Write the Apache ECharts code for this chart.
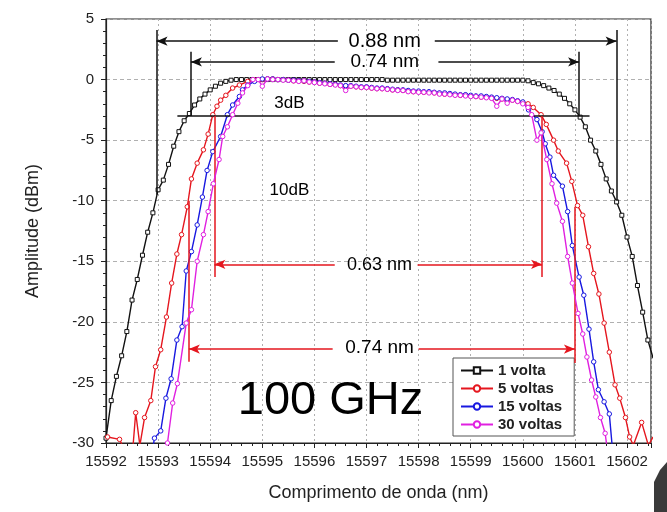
<!DOCTYPE html>
<html><head><meta charset="utf-8">
<script src="https://cdn.jsdelivr.net/npm/echarts@6/dist/echarts.min.js"></script>
<style>html,body{margin:0;padding:0;background:#fff}#c{width:667px;height:512px}</style>
</head><body><div id="c"></div>
<script>
// ---------------- data ----------------
const seriesNames = ['1 volta', '5 voltas', '15 voltas', '30 voltas'];
const xTickLabels = [15592, 15593, 15594, 15595, 15596, 15597, 15598, 15599, 15600, 15601, 15602];
const yTickLabels = [5, 0, -5, -10, -15, -20, -25, -30];

// 1 volta
const volta1Left = [[15592.0,-29.6],[15592.1,-26.5],[15592.2,-24.5],[15592.3,-22.8],[15592.4,-20.8],[15592.5,-18.2],[15592.6,-16.5],[15592.7,-14.5],[15592.8,-12.6],[15592.9,-11.0],[15593.0,-9.1],[15593.1,-8.3],[15593.2,-7.0],[15593.3,-5.5],[15593.4,-4.3],[15593.5,-3.4],[15593.6,-2.8],[15593.7,-2.1],[15593.8,-1.6],[15593.9,-1.2],[15594.0,-0.85],[15594.1,-0.55],[15594.2,-0.3],[15594.3,-0.15],[15594.4,-0.05]];
const topX1 = [15594.5,15594.6,15594.7,15594.8,15594.9,15595.0,15595.1,15595.2,15595.3,15595.4,15595.5,15595.6,15595.7,15595.8,15595.9,15596.0,15596.1,15596.2,15596.3,15596.4,15596.5,15596.6,15596.7,15596.8,15596.9,15597.0,15597.1,15597.2,15597.3,15597.4,15597.5,15597.6,15597.7,15597.8,15597.9,15598.0,15598.1,15598.2,15598.3,15598.4,15598.5,15598.6,15598.7,15598.8,15598.9,15599.0,15599.1,15599.2,15599.3,15599.4,15599.5,15599.6,15599.7,15599.8,15599.9,15600.0];
const volta1Top = [0,0,0,0,0,0,0,0,0,0,0,0,0,0,0,0,0,0,0,0,0,0,0,0,0,0,0,0,0,-0.05,-0.05,-0.05,-0.05,-0.05,-0.05,-0.05,-0.05,-0.05,-0.05,-0.05,-0.05,-0.05,-0.05,-0.05,-0.05,-0.05,-0.05,-0.05,-0.05,-0.05,-0.05,-0.05,-0.05,-0.05,-0.05,-0.05];
const volta1Right = [[15600.1,-0.1],[15600.2,-0.25],[15600.3,-0.35],[15600.4,-0.5],[15600.5,-0.7],[15600.6,-0.9],[15600.7,-1.2],[15600.8,-1.55],[15600.9,-2.0],[15601.0,-2.5],[15601.1,-3.1],[15601.2,-3.9],[15601.3,-5.0],[15601.4,-5.9],[15601.5,-7.0],[15601.6,-8.2],[15601.7,-9.2],[15601.8,-10.1],[15601.9,-11.2],[15602.0,-13.0],[15602.1,-14.6],[15602.2,-17.0],[15602.3,-19.2],[15602.4,-21.5],[15602.5,-23.0]];

// plateau grid for 5/15/30 voltas
const topX2 = [15595.0,15595.1,15595.2,15595.3,15595.4,15595.5,15595.6,15595.7,15595.8,15595.9,15596.0,15596.1,15596.2,15596.3,15596.4,15596.5,15596.6,15596.7,15596.8,15596.9,15597.0,15597.1,15597.2,15597.3,15597.4,15597.5,15597.6,15597.7,15597.8,15597.9,15598.0,15598.1,15598.2,15598.3,15598.4,15598.5,15598.6,15598.7,15598.8,15598.9,15599.0,15599.1,15599.2,15599.3,15599.4,15599.5,15599.6,15599.7,15599.8,15599.9,15600.0];

// 5 voltas
const volta5Left = [[15592.03,-29.5],[15592.26,-29.7],[15592.4,-31],[15592.52,-30.2],[15592.57,-27.5],[15592.65,-30.2],[15592.74,-27.9],[15592.86,-26.5],[15592.95,-23.7],[15593.05,-22.3],[15593.16,-19.6],[15593.26,-16.8],[15593.36,-14.4],[15593.45,-12.8],[15593.56,-10.5],[15593.64,-8.2],[15593.75,-6.9],[15593.87,-5.8],[15593.96,-4.5],[15594.05,-2.9],[15594.13,-2.2],[15594.2,-1.7],[15594.3,-1.3],[15594.43,-0.7],[15594.56,-0.45],[15594.72,-0.15],[15594.85,-0.05]];
const volta5Top = [0.0,0.05,0.05,0.0,0.0,-0.05,-0.1,-0.1,-0.15,-0.2,-0.2,-0.3,-0.3,-0.4,-0.4,-0.5,-0.55,-0.55,-0.6,-0.65,-0.65,-0.7,-0.75,-0.75,-0.8,-0.85,-0.85,-0.9,-0.95,-1.0,-1.0,-1.05,-1.05,-1.1,-1.15,-1.2,-1.2,-1.25,-1.3,-1.3,-1.35,-1.4,-1.45,-1.45,-1.5,-1.55,-1.6,-1.65,-1.7,-1.8,-1.9];
const volta5Right = [[15600.1,-2.0],[15600.2,-2.3],[15600.35,-2.9],[15600.45,-3.7],[15600.59,-5.0],[15600.68,-5.9],[15600.84,-6.9],[15600.94,-8.4],[15601.05,-10.4],[15601.15,-11.2],[15601.26,-13.8],[15601.36,-16.0],[15601.46,-17.7],[15601.56,-20.1],[15601.66,-22.5],[15601.77,-25.2],[15601.86,-26.3],[15601.97,-27.9],[15602.05,-29.5],[15602.12,-30.2],[15602.28,-28.3],[15602.41,-30.2],[15602.5,-29.5]];

// 15 voltas
const volta15Left = [[15592.88,-31],[15592.93,-29.6],[15593.05,-29.0],[15593.15,-26.3],[15593.25,-24.7],[15593.36,-21.5],[15593.46,-20.4],[15593.54,-15.8],[15593.64,-14.2],[15593.75,-12.0],[15593.85,-9.7],[15593.94,-7.5],[15594.05,-5.95],[15594.2,-4.7],[15594.33,-2.9],[15594.43,-2.1],[15594.56,-1.4],[15594.62,-0.85],[15594.72,-0.45],[15594.85,-0.15]];
const volta15Top = [0.05,0.05,0.05,0.0,0.0,-0.05,-0.05,-0.1,-0.1,-0.15,-0.2,-0.25,-0.3,-0.35,-0.4,-0.45,-0.5,-0.5,-0.55,-0.6,-0.6,-0.65,-0.7,-0.7,-0.75,-0.8,-0.85,-0.85,-0.9,-0.95,-0.95,-1.0,-1.0,-1.05,-1.1,-1.1,-1.15,-1.2,-1.25,-1.25,-1.3,-1.35,-1.35,-1.4,-1.45,-1.5,-1.55,-1.6,-1.65,-1.75,-1.85];
const volta15Right = [[15600.11,-2.5],[15600.27,-3.3],[15600.37,-4.3],[15600.43,-5.3],[15600.52,-6.4],[15600.59,-7.9],[15600.76,-8.8],[15600.86,-10.9],[15600.95,-13.7],[15601.08,-16.3],[15601.17,-17.8],[15601.27,-20.6],[15601.36,-23.3],[15601.45,-25.6],[15601.56,-26.6],[15601.66,-27.6],[15601.72,-30.5]];

// 30 voltas
const volta30Left = [[15593.15,-31],[15593.18,-30.0],[15593.28,-26.7],[15593.37,-25.1],[15593.54,-20.1],[15593.64,-19.0],[15593.75,-15.0],[15593.87,-12.8],[15593.96,-10.9],[15594.06,-8.6],[15594.17,-6.6],[15594.24,-4.7],[15594.33,-3.9],[15594.43,-2.9],[15594.53,-1.95],[15594.62,-1.1],[15594.72,-0.5],[15594.82,0.0],[15594.92,0.0]];
const volta30Top = [-0.55,0.05,0.0,0.0,-0.05,-0.05,-0.1,-0.15,-0.1,-0.2,-0.25,-0.3,-0.35,-0.4,-0.45,-0.5,-0.9,-0.55,-0.6,-0.65,-0.65,-0.7,-0.75,-0.75,-0.8,-0.85,-0.9,-0.9,-1.0,-1.0,-1.05,-1.05,-1.1,-1.1,-1.2,-1.2,-1.25,-1.3,-1.3,-1.35,-1.4,-1.4,-1.45,-1.5,-1.55,-2.2,-1.6,-1.95,-1.7,-1.8,-2.0];
const volta30Right = [[15600.1,-2.3],[15600.17,-2.9],[15600.27,-5.0],[15600.35,-4.4],[15600.46,-6.6],[15600.56,-8.6],[15600.65,-10.2],[15600.76,-11.7],[15600.86,-14.6],[15600.95,-16.8],[15601.06,-19.3],[15601.15,-21.0],[15601.23,-22.9],[15601.32,-24.8],[15601.4,-26.2],[15601.49,-27.9],[15601.58,-29.2],[15601.62,-30.5]];

// annotations (data units): vertical [x, yTop, yBottom]; arrows [fromX, toX, y]; hline [x1, x2, y]
const blackVLines = [[15592.97, 4.1, -9.5], [15601.8, 4.1, -10.0], [15593.63, 2.3, -3.0], [15601.08, 2.3, -3.0]];
const blackHLines = [[15593.37, 15601.28, -3.0]];
const blackArrows = [[15596.45, 15592.97, 3.17], [15598.31, 15601.8, 3.17], [15596.39, 15593.63, 1.46], [15598.38, 15601.08, 1.46]];
const redVLines = [[15594.08, -3.0, -16.3], [15600.37, -3.0, -16.3], [15593.59, -10.0, -23.3], [15601.0, -10.5, -23.4]];
const redArrows = [[15596.39, 15594.08, -15.25], [15597.98, 15600.37, -15.25], [15596.35, 15593.59, -22.25], [15598.0, 15601.0, -22.25]];
const notes = [['0.88 nm', 15597.35, 3.12], ['0.74 nm', 15597.35, 1.46], ['3dB', 15595.52, -1.93], ['10dB', 15595.52, -9.13], ['0.63 nm', 15597.25, -15.35], ['0.74 nm', 15597.25, -22.1], ['100 GHz', 15596.31, -26.5]];

// ---------------- chart ----------------
const FONT = '"Liberation Sans", Arial, sans-serif';
const colors = ['#111111', '#e5161e', '#1818e0', '#e020e0'];
const zip = (xs, ys) => xs.map((x, i) => [x, ys[i]]);
const allData = [
  volta1Left.concat(zip(topX1, volta1Top), volta1Right),
  volta5Left.concat(zip(topX2, volta5Top), volta5Right),
  volta15Left.concat(zip(topX2, volta15Top), volta15Right),
  volta30Left.concat(zip(topX2, volta30Top), volta30Right)
];
const symbols = ['rect', 'circle', 'circle', 'circle'];

const curveSeries = seriesNames.map((name, i) => ({
  name, type: 'line', data: allData[i], symbol: symbols[i], symbolSize: i === 0 ? 4 : 4.5,
  showSymbol: true, showAllSymbol: true, clip: true,
  lineStyle: { color: colors[i], width: 1.4 },
  itemStyle: { color: '#fff', borderColor: colors[i], borderWidth: 1 },
  emphasis: { disabled: true }, z: 2 + i
}));

function ls(color) { return { color, width: 1.5, type: 'solid' }; }
function vline(v, color) { return [{ coord: [v[0], v[1]], lineStyle: ls(color) }, { coord: [v[0], v[2]] }]; }
function hline(h, color) { return [{ coord: [h[0], h[2]], lineStyle: ls(color) }, { coord: [h[1], h[2]] }]; }
function arrow(a, color) { return [{ coord: [a[0], a[2]], symbol: 'none', lineStyle: ls(color) }, { coord: [a[1], a[2]], symbol: 'arrow', symbolSize: [7, 11], itemStyle: { color } }]; }

const markData = [].concat(
  blackVLines.map(v => vline(v, '#111')),
  blackHLines.map(h => hline(h, '#111')),
  blackArrows.map(a => arrow(a, '#111')),
  redVLines.map(v => vline(v, '#e5161e')),
  redArrows.map(a => arrow(a, '#e5161e'))
);

const noteSizes = { '0.88 nm': 20, '0.74 nm': 19, '3dB': 17, '10dB': 17, '0.63 nm': 18, '100 GHz': 47 };

const option = {
  animation: false,
  backgroundColor: '#fff',
  grid: { left: 106, right: 16, top: 19, bottom: 69, show: true, borderColor: '#222', borderWidth: 1.2, backgroundColor: 'transparent' },
  xAxis: {
    type: 'value', min: 15592, max: 15602.46, interval: 1,
    name: 'Comprimento de onda (nm)', nameLocation: 'middle', nameGap: 41,
    nameTextStyle: { fontFamily: FONT, fontSize: 18, color: '#222' },
    axisLine: { onZero: false, lineStyle: { color: '#222', width: 1.2 } },
    axisTick: { show: true, length: 5, lineStyle: { color: '#222' } },
    minorTick: { show: true, splitNumber: 5, length: 3, lineStyle: { color: '#222' } },
    axisLabel: { fontFamily: FONT, fontSize: 15, color: '#222', margin: 11,
      formatter: v => xTickLabels.some(t => Math.abs(t - v) < 1e-6) ? String(Math.round(v)) : '' },
    splitLine: { show: true, lineStyle: { color: '#b0b0b0', type: [2, 3], width: 1 } }
  },
  yAxis: {
    type: 'value', min: -30, max: 5, interval: 5,
    name: 'Amplitude (dBm)', nameLocation: 'middle', nameGap: 64,
    nameTextStyle: { fontFamily: FONT, fontSize: 18, color: '#222' },
    axisLine: { onZero: false, lineStyle: { color: '#222', width: 1.2 } },
    axisTick: { show: true, length: 5, lineStyle: { color: '#222' } },
    minorTick: { show: true, splitNumber: 5, length: 3, lineStyle: { color: '#222' } },
    axisLabel: { fontFamily: FONT, fontSize: 15, color: '#222', margin: 12,
      formatter: v => yTickLabels.includes(v) ? String(v) : '' },
    splitLine: { show: true, lineStyle: { color: '#b0b0b0', type: [4, 3], width: 1 } }
  },
  legend: {
    data: seriesNames, orient: 'vertical', left: 453, top: 358,
    itemWidth: 32, itemHeight: 8, itemGap: 3, padding: [5, 12, 4, 7],
    borderColor: '#555', borderWidth: 1, backgroundColor: '#fff',
    textStyle: { fontFamily: FONT, fontSize: 15, fontWeight: 'bold', color: '#222' }
  },
  graphic: [{ type: 'polygon', shape: { points: [[667, 462], [667, 512], [654, 512], [654, 482], [660, 470]] }, style: { fill: '#3a3a3a' }, silent: true }],
  series: curveSeries.concat([
    { name: 'notes', type: 'line', data: [], silent: true, z: 8,
      markLine: { silent: true, animation: false, symbol: ['none', 'none'], lineStyle: { type: 'solid' }, label: { show: false }, emphasis: { disabled: true }, data: markData } },
    { name: 'texts', type: 'scatter', silent: true, z: 10, symbolSize: 1,
      itemStyle: { color: 'rgba(0,0,0,0)', opacity: 1 },
      data: notes.map(n => ({ value: [n[1], n[2]], name: n[0], label: { fontSize: noteSizes[n[0]] || 17, color: '#000', opacity: 1 } })),
      label: { show: true, position: 'inside', formatter: '{b}', color: '#000', opacity: 1, fontFamily: FONT } }
  ])
};
const chart = echarts.init(document.getElementById('c'));
chart.setOption(option);
</script>
</body></html>
